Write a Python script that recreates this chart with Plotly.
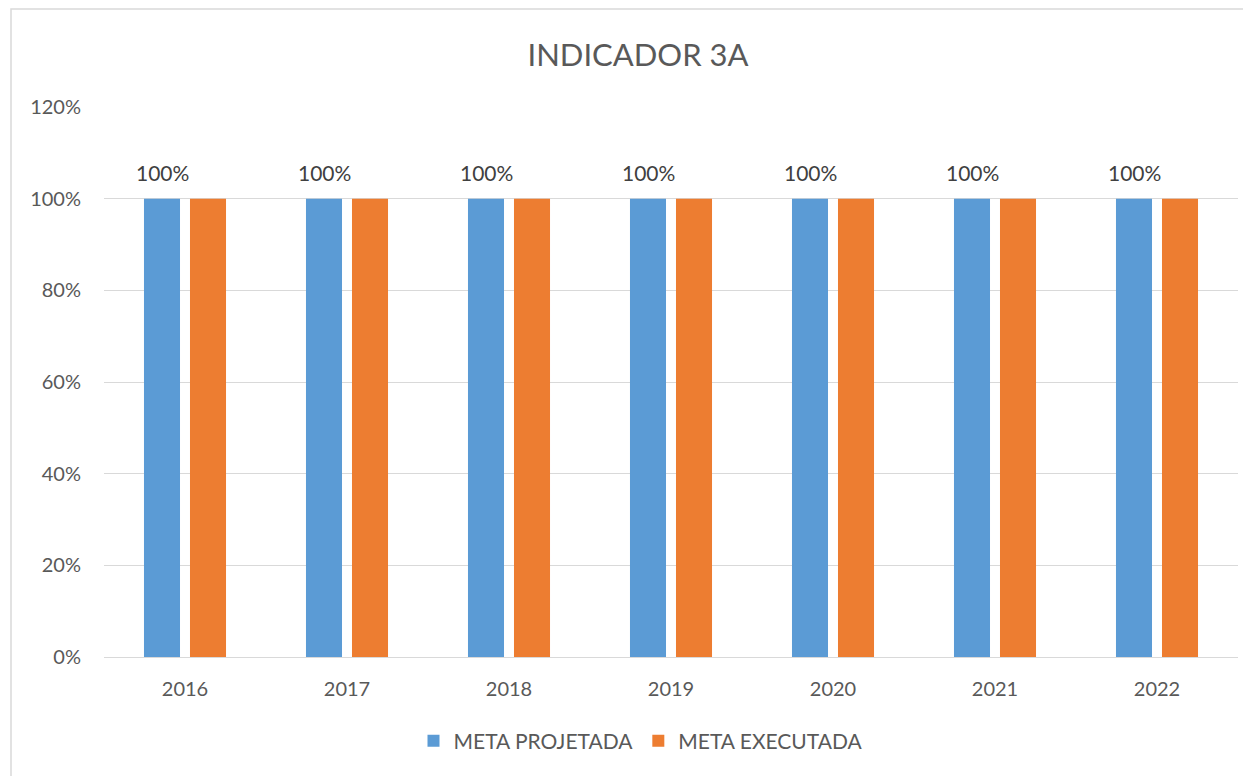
import plotly.graph_objects as go

years = ["2016", "2017", "2018", "2019", "2020", "2021", "2022"]
meta_projetada = [1.0, 1.0, 1.0, 1.0, 1.0, 1.0, 1.0]
meta_executada = [1.0, 1.0, 1.0, 1.0, 1.0, 1.0, 1.0]
y_ticks = [0, 0.2, 0.4, 0.6, 0.8, 1.0, 1.2]

FONT = "Lato"
GRAY = "#595959"

# page body adds an 8px offset; plot area target in viewport: x 104..1238, y 107..657
OFF = 8
L, T = 104 - OFF, 107 - OFF
PW, PH = 1134, 550
W, H = 1251, 776

def px(xv):  # viewport x -> paper
    return (xv - OFF - L) / PW

def py(yv):  # viewport y -> paper
    return (T + PH - (yv - OFF)) / PH

fig = go.Figure()
fig.add_trace(go.Bar(x=years, y=meta_projetada, name="META PROJETADA",
                     marker=dict(color="#5B9BD5", line=dict(width=0))))
fig.add_trace(go.Bar(x=years, y=meta_executada, name="META EXECUTADA",
                     marker=dict(color="#ED7D31", line=dict(width=0))))

annotations = []
for i, v in enumerate(meta_projetada):
    annotations.append(dict(x=i, y=v, xref="x", yref="y", text=f"{v*100:.0f}%",
                            showarrow=False, xshift=-23, yshift=26,
                            font=dict(family=FONT, size=21, color="#404040")))

fig.update_layout(
    width=W, height=H,
    margin=dict(l=L, r=W - L - PW, t=T, b=H - T - PH),
    paper_bgcolor="white", plot_bgcolor="white",
    barmode="group", bargap=0.432, bargroupgap=0.217,
    title=dict(text="INDICADOR 3A", x=px(638), xref="paper", xanchor="center",
               y=1 - (55 - OFF) / H, yanchor="middle",
               font=dict(family=FONT, size=31, color=GRAY)),
    font=dict(family=FONT, size=20, color=GRAY),
    legend=dict(orientation="h", x=px(641), xanchor="center",
                y=py(741), yanchor="middle",
                font=dict(family=FONT, size=21, color=GRAY),
                itemwidth=30, traceorder="normal"),
    xaxis=dict(type="category", range=[-0.5, len(years) - 0.5], showgrid=False,
               ticks="", ticklabelstandoff=14,
               tickfont=dict(family=FONT, size=20, color=GRAY),
               showline=True, linecolor="#d9d9d9", linewidth=1),
    yaxis=dict(range=[0, 1.2], tickvals=y_ticks, tickformat=".0%",
               showgrid=True, gridcolor="#d9d9d9", gridwidth=1,
               zeroline=False, showline=False, ticks="", ticklabelstandoff=22,
               tickfont=dict(family=FONT, size=20, color=GRAY)),
    annotations=annotations,
    shapes=[dict(type="rect", xref="paper", yref="paper",
                 x0=px(11), x1=px(1275), y0=py(800), y1=py(9),
                 line=dict(color="#d9d9d9", width=1.5), fillcolor="rgba(0,0,0,0)")],
)

fig.write_html("out.html")
